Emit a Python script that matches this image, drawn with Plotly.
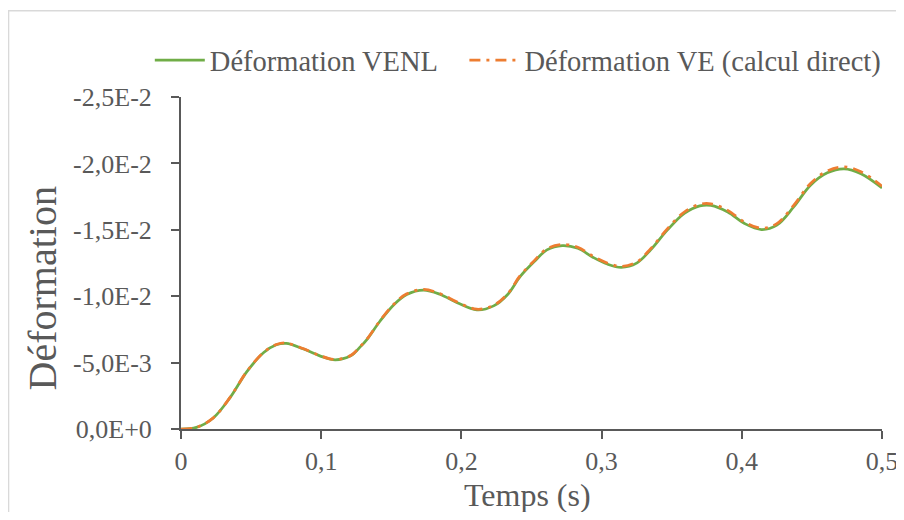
import plotly.graph_objects as go

# time (s) and strain values
temps = [0.0, 0.011, 0.023, 0.035, 0.047, 0.059, 0.068, 0.075, 0.087, 0.099,
         0.110, 0.121, 0.128, 0.133, 0.142, 0.152, 0.161, 0.173, 0.185, 0.197,
         0.211, 0.223, 0.233, 0.242, 0.252, 0.261, 0.272, 0.283, 0.294, 0.304,
         0.314, 0.325, 0.335, 0.347, 0.359, 0.370, 0.378, 0.390, 0.402, 0.414,
         0.425, 0.437, 0.449, 0.461, 0.473, 0.485, 0.5]

def_venl = [0.0, -0.00012, -0.00083, -0.00236, -0.00432, -0.00576, -0.00634,
            -0.00645, -0.00604, -0.00551, -0.00521, -0.00551, -0.00620,
            -0.00679, -0.00813, -0.00938, -0.01013, -0.01046, -0.01013,
            -0.00951, -0.00897, -0.00927, -0.01013, -0.01149, -0.01261,
            -0.01349, -0.01381, -0.01361, -0.01292, -0.01242, -0.01217,
            -0.01249, -0.01349, -0.01499, -0.01623, -0.0168, -0.01684,
            -0.01634, -0.01547, -0.01502, -0.01535, -0.01672, -0.01836,
            -0.01929, -0.01959, -0.01922, -0.01815]

def_ve = [0.0, -0.00012, -0.00084, -0.00238, -0.00434, -0.00578, -0.00636,
          -0.00647, -0.00606, -0.00553, -0.00523, -0.00553, -0.00623,
          -0.00682, -0.00817, -0.00942, -0.01018, -0.01051, -0.01018,
          -0.00956, -0.00902, -0.00932, -0.01019, -0.01156, -0.01268,
          -0.01357, -0.01389, -0.01369, -0.013, -0.0125, -0.01224,
          -0.01257, -0.01358, -0.01509, -0.01634, -0.01692, -0.01696,
          -0.01646, -0.01558, -0.01512, -0.01546, -0.01684, -0.01849,
          -0.01943, -0.01974, -0.01937, -0.01828]

x_ticks = [0, 0.1, 0.2, 0.3, 0.4, 0.5]
x_labels = ['0', '0,1', '0,2', '0,3', '0,4', '0,5']
y_ticks = [0, -0.005, -0.01, -0.015, -0.02, -0.025]
y_labels = ['0,0E+0', '-5,0E-3', '-1,0E-2', '-1,5E-2', '-2,0E-2', '-2,5E-2']

ff = 'Liberation Serif'
grey = '#595959'
nbsp = '\u00a0'

trace_venl = go.Scatter(
    x=temps, y=def_venl,
    name='Déformation VENL' + nbsp * 3,  # padding = gap between legend entries
    mode='lines',
    line=dict(color='#70AD47', width=2.75, shape='spline'),
)
trace_ve = go.Scatter(
    x=temps, y=def_ve,
    name='Déformation VE (calcul direct)',
    mode='lines',
    line=dict(color='#ED7D31', width=2.75, dash='11px,6px,3px,6px', shape='spline'),
)

# page body has an 8px margin, so the figure is offset by 8px
layout = go.Layout(
    template='none',
    width=896, height=504,
    margin=dict(l=173, r=22, t=89, b=83, pad=0, autoexpand=False),
    paper_bgcolor='white',
    plot_bgcolor='white',
    font=dict(family=ff, color=grey, size=26),
    showlegend=True,
    legend=dict(
        orientation='h', x=-0.0445, xanchor='left', y=1.11, yanchor='middle',
        font=dict(family=ff, size=28.5, color=grey),
        bgcolor='rgba(0,0,0,0)', borderwidth=0, itemwidth=50,
    ),
    xaxis=dict(
        range=[0, 0.5], tickvals=x_ticks, ticktext=x_labels,
        showgrid=False, zeroline=False, automargin=False,
        showline=True, linecolor=grey, linewidth=2,
        ticks='outside', ticklen=8, tickwidth=2, tickcolor=grey,
        tickfont=dict(family=ff, size=26, color=grey),
    ),
    yaxis=dict(
        range=[0, -0.025], tickvals=y_ticks, ticktext=y_labels,
        showgrid=False, zeroline=False, automargin=False,
        showline=True, linecolor=grey, linewidth=2,
        ticks='outside', ticklen=8, tickwidth=2, tickcolor=grey,
        tickfont=dict(family=ff, size=26, color=grey), ticklabelstandoff=14,
    ),
    annotations=[
        dict(text='Déformation', textangle=-90, xref='paper', yref='paper',
             x=-0.198, y=0.424, xanchor='center', yanchor='middle',
             showarrow=False, font=dict(family=ff, size=40, color=grey)),
        dict(text='Temps (s)', xref='paper', yref='paper',
             x=0.4936, y=-0.198, xanchor='center', yanchor='middle',
             showarrow=False, font=dict(family=ff, size=32, color=grey)),
    ],
    shapes=[dict(
        type='rect', xref='paper', yref='paper',
        x0=-0.246, x1=1.05, y0=-0.30, y1=1.26,
        line=dict(color='#D9D9D9', width=1.5), layer='below',
    )],
)

fig = go.Figure(data=[trace_venl, trace_ve], layout=layout)
fig.write_html('out.html')
